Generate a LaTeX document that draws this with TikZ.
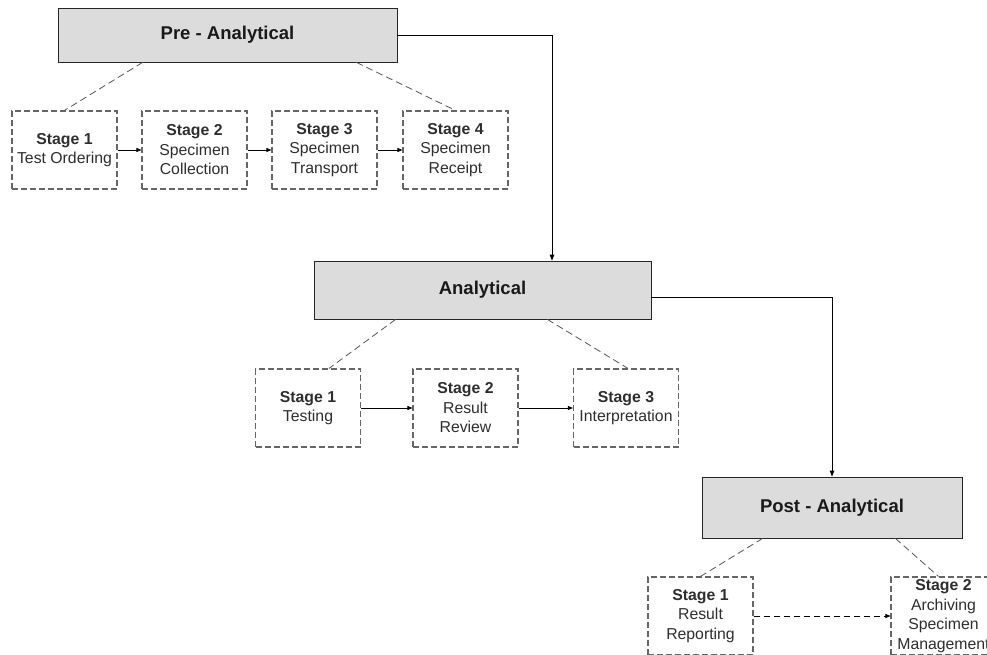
\documentclass[tikz,border=0pt]{standalone}
\usepackage{fontspec}
\setmainfont{Liberation Sans}
\usetikzlibrary{arrows.meta}
\definecolor{phasefill}{HTML}{DCDCDC}
\definecolor{stageline}{HTML}{666666}
\definecolor{stagetext}{HTML}{2E2E2E}
\definecolor{linkline}{HTML}{555555}
\tikzset{
  phase/.style={draw=black!85, line width=0.8pt, fill=phasefill, inner sep=0pt,
    font=\fontsize{18.5}{22}\selectfont\bfseries, text=black!90},
  stagebox/.style={draw=stageline, line width=1.1pt, dash pattern=on 6pt off 3pt,
    minimum width=105pt, minimum height=78pt, inner sep=0pt, align=center,
    text=stagetext, font=\fontsize{15.8}{19.5}\selectfont},
  tie/.style={draw=linkline, line width=0.8pt, dash pattern=on 7pt off 4pt},
  flow/.style={draw=black, line width=0.8pt, -{Triangle[length=6pt,width=4.5pt]}},
  step arrow/.style={draw=black, line width=0.8pt, -{Triangle[length=5pt,width=4pt]}},
}
\begin{document}
\begin{tikzpicture}[x=1pt,y=-1pt]
\useasboundingbox (0,0) rectangle (987,655);
\clip (0,0) rectangle (987,655);

% phase boxes
\node[phase, minimum width=339pt, minimum height=54pt] (pre) at (227.5,35) {Pre - Analytical};
\node[phase, minimum width=337pt, minimum height=58pt] (an) at (482.5,290) {Analytical};
\node[phase, minimum width=260pt, minimum height=61pt] (post) at (832,507.5) {Post - Analytical};

% pre-analytical stages
\node[stagebox] (p1) at (64.5,150) {\textbf{Stage 1}\\Test Ordering};
\node[stagebox] (p2) at (194.5,150) {\textbf{Stage 2}\\Specimen\\Collection};
\node[stagebox] (p3) at (324.5,150) {\textbf{Stage 3}\\Specimen\\Transport};
\node[stagebox] (p4) at (455.5,150) {\textbf{Stage 4}\\Specimen\\Receipt};

% analytical stages
\node[stagebox] (a1) at (308,408) {\textbf{Stage 1}\\Testing};
\node[stagebox] (a2) at (465.5,408) {\textbf{Stage 2}\\Result\\Review};
\node[stagebox] (a3) at (626,408) {\textbf{Stage 3}\\Interpretation};

% post-analytical stages
\node[stagebox] (q1) at (700.5,616) {\textbf{Stage 1}\\Result\\Reporting};
\node[stagebox] (q2) at (943.5,616) {\textbf{Stage 2}\\Archiving\\Specimen\\Management};

% dashed ties from phases to their stages
\draw[tie] ([xshift=85pt]pre.south west) -- (p1.north);
\draw[tie] ([xshift=-41pt]pre.south east) -- (p4.north);
\draw[tie] ([xshift=82pt]an.south west) -- ([xshift=21pt]a1.north);
\draw[tie] ([xshift=-104pt]an.south east) -- ([xshift=2pt]a3.north);
\draw[tie] ([xshift=61pt]post.south west) -- (q1.north);
\draw[tie] ([xshift=-67pt]post.south east) -- ([xshift=-5pt]q2.north);

% stage sequence arrows
\draw[step arrow] (p1) -- (p2);
\draw[step arrow] (p2) -- (p3);
\draw[step arrow] (p3) -- (p4);
\draw[step arrow] (a1) -- (a2);
\draw[step arrow] (a2) -- (a3);
\draw[step arrow, dash pattern=on 6pt off 4pt] (q1) -- (q2);

% phase to phase flow
\draw[flow] (pre.east) -| ([xshift=69.5pt]an.north);
\draw[flow] ([yshift=-7pt]an.east) -| (post.north);
\end{tikzpicture}
\end{document}
